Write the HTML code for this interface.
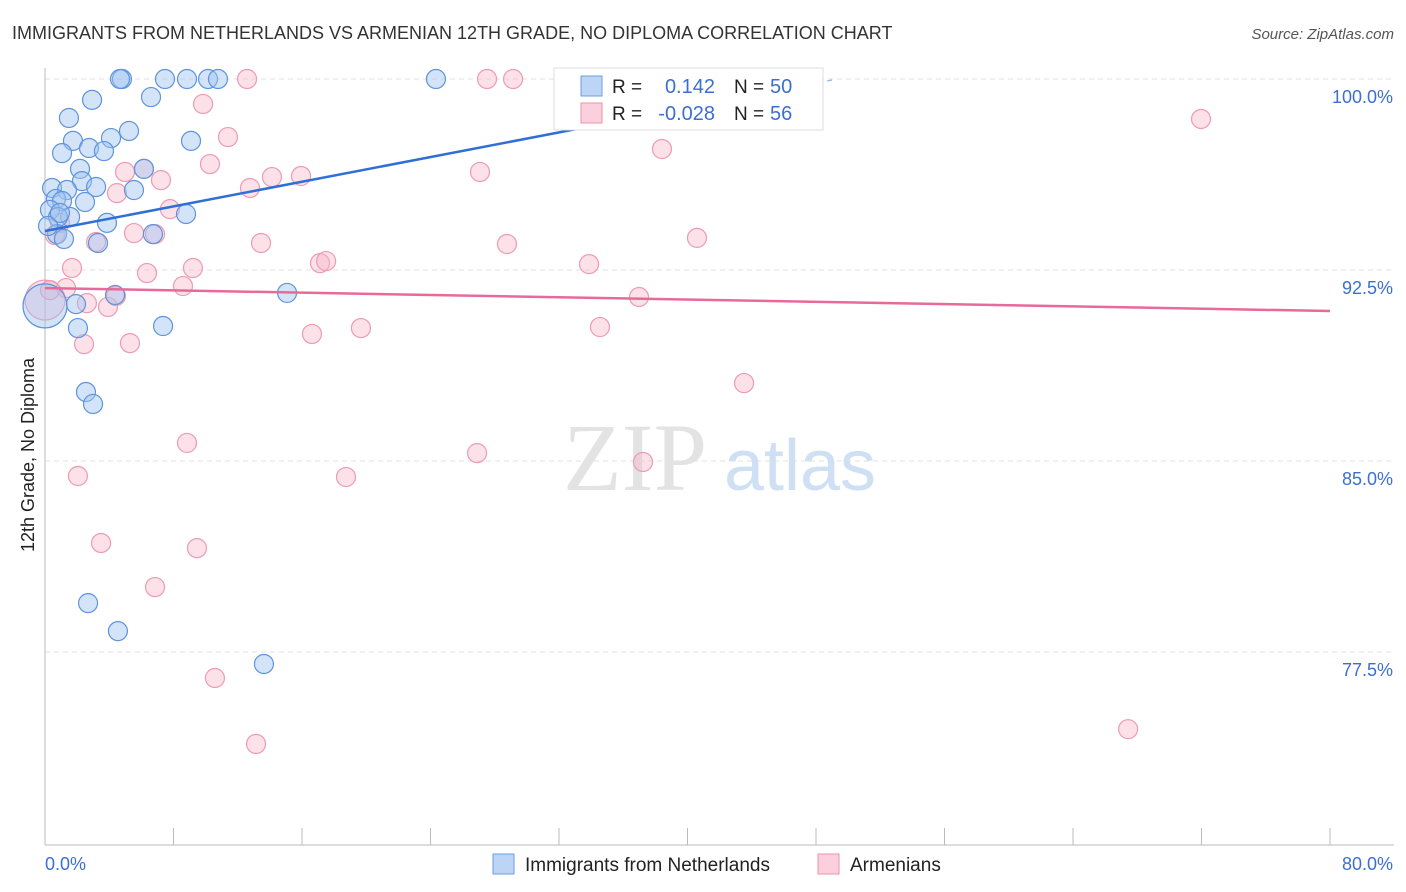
<!DOCTYPE html>
<html><head><meta charset="utf-8">
<style>
body{margin:0;background:#fff;font-family:"Liberation Sans",sans-serif;}
svg{display:block}
</style></head>
<body>
<svg id="chart" width="1406" height="892">
<text x="12" y="39" font-size="18" fill="#333">IMMIGRANTS FROM NETHERLANDS VS ARMENIAN 12TH GRADE, NO DIPLOMA CORRELATION CHART</text>
<text x="1394" y="39" font-size="15" fill="#555" font-style="italic" text-anchor="end">Source: ZipAtlas.com</text>
<text x="34" y="455" font-size="18" fill="#222" text-anchor="middle" transform="rotate(-90 34 455)">12th Grade, No Diploma</text>
<g id="grid"></g>
<g id="watermark">
<text x="635" y="490" font-size="96" fill="#e3e3e3" font-family="Liberation Serif,serif" text-anchor="middle">ZIP</text>
<text x="800" y="490" font-size="72" fill="#cfe0f5" text-anchor="middle">atlas</text>
</g>
<g id="pts"></g>
<g id="lines"></g>
<g>
<rect x="554" y="68" width="269" height="62" fill="#fff" stroke="#ddd"/>
<rect x="581" y="76" width="21" height="20" fill="#bcd4f5" stroke="#6d9fe0"/>
<rect x="581" y="103" width="21" height="20" fill="#fbcfdc" stroke="#ee92ae"/>
<text x="612" y="93" font-size="19" fill="#222">R =</text>
<text x="715" y="93" font-size="20" fill="#3b6fd4" text-anchor="end">0.142</text>
<text x="734" y="93" font-size="19" fill="#222">N =</text>
<text x="770" y="93" font-size="20" fill="#3b6fd4">50</text>
<text x="612" y="120" font-size="19" fill="#222">R =</text>
<text x="715" y="120" font-size="20" fill="#3b6fd4" text-anchor="end">-0.028</text>
<text x="734" y="120" font-size="19" fill="#222">N =</text>
<text x="770" y="120" font-size="20" fill="#3b6fd4">56</text>
</g>
<g>
<rect x="493" y="854" width="21" height="20" fill="#bcd4f5" stroke="#6d9fe0"/>
<text x="525" y="871" font-size="19" fill="#222">Immigrants from Netherlands</text>
<rect x="818" y="854" width="21" height="20" fill="#fbcfdc" stroke="#ee92ae"/>
<text x="850" y="871" font-size="19" fill="#222">Armenians</text>
</g>
</svg>
<script>
const xTicks=[0,8,16,24,32,40,48,56,64,72,80];
const yTicks=[100,92.5,85,77.5];
const yTickLabels=["100.0%","92.5%","85.0%","77.5%"];
const blueX=[4.79,4.67,7.47,8.84,10.15,10.77,24.34,33.0,2.93,6.60,1.49,5.23,1.74,4.11,9.09,2.74,3.67,1.06,2.18,6.16,2.30,0.44,3.18,5.54,1.37,0.68,2.49,1.06,0.31,1.56,0.81,8.78,3.86,0.75,6.72,1.18,3.30,4.36,15.07,0,1.93,2.05,7.35,2.55,2.99,2.68,4.54,13.63,0.19,0.93];
const blueY=[100,100,100,100,100,100,100,100,99.18,99.29,98.47,97.96,97.57,97.68,97.57,97.29,97.17,97.09,96.47,96.47,95.99,95.72,95.76,95.64,95.64,95.29,95.17,95.21,94.86,94.58,94.58,94.70,94.35,93.91,93.91,93.72,93.56,91.52,91.60,91.09,91.16,90.22,90.30,87.71,87.24,79.42,78.32,77.03,94.23,94.74];
const pinkX=[12.58,27.52,29.14,9.84,11.39,71.97,38.41,27.08,10.27,4.98,6.16,7.22,14.13,15.94,4.48,12.76,7.78,0.62,3.18,5.54,6.85,13.45,28.76,40.59,1.68,6.35,9.21,17.12,17.50,33.87,1.31,8.59,2.61,3.92,4.42,36.98,16.62,19.67,34.55,2.43,5.29,0,43.52,8.84,26.90,37.23,2.05,18.74,3.49,9.46,6.85,10.58,13.14,67.43,0.31,0.93];
const pinkY=[100,100,100,99.02,97.72,98.43,97.25,96.35,96.66,96.35,96.47,96.03,96.15,96.19,95.52,95.72,94.89,93.87,93.60,93.95,93.91,93.56,93.52,93.76,92.58,92.38,92.58,92.77,92.85,92.73,91.79,91.87,91.20,91.05,91.48,91.44,89.99,90.22,90.26,89.59,89.63,91.32,88.06,85.71,85.31,84.96,84.41,84.37,81.78,81.58,80.05,76.48,73.89,74.47,91.71,94.35];
const blueBig=[39];const pinkBig=[41];
const blueTrend=[94.03,99.96];const blueTrendX=[0,49];const blueSolidEnd=38.3;
const pinkTrend=[91.79,90.89];

const NS="http://www.w3.org/2000/svg";
const X=v=>45+v/80*1285;
const Y=v=>79+(100-v)*191/7.5;
function mk(tag,attrs,parent){const e=document.createElementNS(NS,tag);for(const k in attrs)e.setAttribute(k,attrs[k]);parent.appendChild(e);return e;}
const grid=document.getElementById('grid');
yTicks.forEach((t,i)=>{
  const l=mk('line',{x1:45,x2:1394,y1:Y(t),y2:Y(t),stroke:'#e2e2e2','stroke-dasharray':'5,4'},grid);
  
  
  const tx=mk('text',{x:1393,y:Y(t)+24,'font-size':18,fill:'#3b6fd4','text-anchor':'end'},grid);
  tx.textContent=yTickLabels[i];
  
  
});
const ax=mk('line',{x1:45,x2:45,y1:68,y2:845,stroke:'#bbb'},grid);


const bx=mk('line',{x1:45,x2:1394,y1:845,y2:845,stroke:'#bbb'},grid);


xTicks.forEach(t=>{
  const l=mk('line',{x1:X(t),x2:X(t),y1:828,y2:845,stroke:'#bbb'},grid);
  
  
});
const xl0=mk('text',{x:45,y:870,'font-size':18,fill:'#3b6fd4'},grid);xl0.textContent='0.0%';


const xl1=mk('text',{x:1393,y:870,'font-size':18,fill:'#3b6fd4','text-anchor':'end'},grid);xl1.textContent='80.0%';



const pts=document.getElementById('pts');
pinkX.forEach((x,i)=>{
  const c=mk('circle',{cx:X(x),cy:Y(pinkY[i]),r:pinkBig.includes(i)?20:9.5,fill:'rgba(248,180,200,0.4)',stroke:'#ee9ab4','stroke-width':1.2},pts);
  
  
});
blueX.forEach((x,i)=>{
  const c=mk('circle',{cx:X(x),cy:Y(blueY[i]),r:blueBig.includes(i)?22:9.5,fill:'rgba(160,195,240,0.45)',stroke:'#5e93dd','stroke-width':1.2},pts);
  
  
});
const lines=document.getElementById('lines');
const by=x=>blueTrend[0]+(blueTrend[1]-blueTrend[0])*(x-blueTrendX[0])/(blueTrendX[1]-blueTrendX[0]);
const b1=mk('line',{x1:X(0),y1:Y(by(0)),x2:X(blueSolidEnd),y2:Y(by(blueSolidEnd)),stroke:'#2f6fd6','stroke-width':2.5},lines);


const b2=mk('line',{x1:X(blueSolidEnd),y1:Y(by(blueSolidEnd)),x2:X(blueTrendX[1]),y2:Y(by(blueTrendX[1])),stroke:'#8fb2e8','stroke-width':1.2,'stroke-dasharray':'6,4'},lines);


const p1=mk('line',{x1:X(0),y1:Y(pinkTrend[0]),x2:X(80),y2:Y(pinkTrend[1]),stroke:'#e8699a','stroke-width':2.5},lines);


</script>
</body></html>
